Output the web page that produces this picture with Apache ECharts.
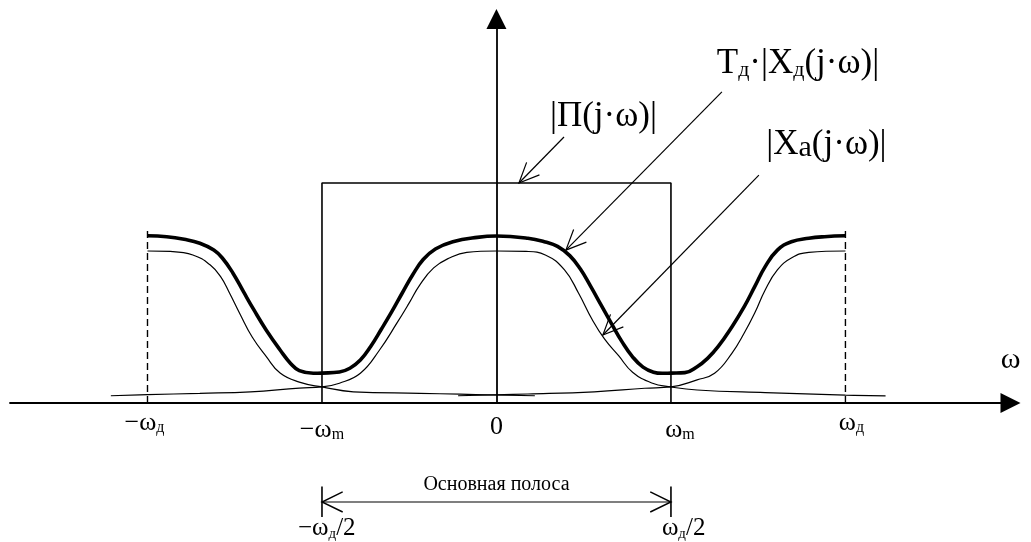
<!DOCTYPE html>
<html>
<head>
<meta charset="utf-8">
<script src="https://cdn.jsdelivr.net/npm/echarts@6/dist/echarts.min.js"></script>
<style>html,body{margin:0;padding:0;background:#fff}#chart{width:1031px;height:542px}</style>
</head>
<body>
<div id="chart"></div>
<script>
// ---------- DATA (ω measured in units of ωm, amplitude in units of |Π| height) ----------
const tickValuesD = [-2, 0, 2];                       // −ωд, 0, ωд
const tickLabelsD = ['{t|−ω}{s|д}{sp6|}', '{z|0}', '{sp12|}{t|ω}{s|д}'];
const tickValuesM = [-1, 1];                          // −ωm, ωm
const tickLabelsM = ['{t|−ω}{s|m}', '{sp18|}{t|ω}{s|m}'];
const axisName = 'ω';

// |Π(j·ω)| — ideal low-pass filter
const passband = [[-1, 0], [-1, 1], [1, 1], [1, 0]];
// dashed marks at ±ωд
const samplingMarkLeft = [[-2, 0], [-2, 0.791]];
const samplingMarkRight = [[2, 0], [2, 0.791]];

// Tд·|Xд(j·ω)| — spectrum of the sampled signal (thick)
const sampledSpectrum = [
  [-2.00, 0.760], [-1.89, 0.756], [-1.79, 0.744], [-1.70, 0.726], [-1.62, 0.695], [-1.57, 0.658],
  [-1.51, 0.590], [-1.45, 0.506], [-1.39, 0.423], [-1.32, 0.332], [-1.24, 0.241], [-1.18, 0.180],
  [-1.13, 0.147], [-1.05, 0.135], [-1.00, 0.136], [-0.90, 0.141], [-0.84, 0.158], [-0.78, 0.195],
  [-0.72, 0.258], [-0.66, 0.335], [-0.60, 0.415], [-0.54, 0.500], [-0.48, 0.583], [-0.42, 0.652],
  [-0.35, 0.700], [-0.25, 0.733], [-0.11, 0.753], [0.00, 0.759], [0.18, 0.749], [0.28, 0.732],
  [0.35, 0.712], [0.42, 0.670], [0.48, 0.610], [0.54, 0.530], [0.60, 0.445], [0.66, 0.360],
  [0.72, 0.278], [0.78, 0.210], [0.84, 0.163], [0.90, 0.140], [0.95, 0.135], [1.00, 0.136],
  [1.08, 0.138], [1.15, 0.165], [1.21, 0.203], [1.27, 0.256], [1.35, 0.347], [1.42, 0.438],
  [1.48, 0.529], [1.54, 0.620], [1.61, 0.695], [1.69, 0.733], [1.79, 0.749], [1.88, 0.756],
  [2.00, 0.760]
];

// |Xa(j·ω)| — analog spectrum (thin), centred at 0
const analogSpectrum = [
  [-2.21, 0.033], [-2.00, 0.038], [-1.70, 0.044], [-1.41, 0.051], [-1.13, 0.068], [-1.00, 0.073],
  [-0.90, 0.090], [-0.78, 0.135], [-0.67, 0.241], [-0.57, 0.364], [-0.50, 0.455], [-0.44, 0.536],
  [-0.36, 0.614], [-0.27, 0.659], [-0.17, 0.685], [0.00, 0.691], [0.17, 0.689], [0.28, 0.673],
  [0.39, 0.605], [0.47, 0.500], [0.55, 0.377], [0.62, 0.290], [0.70, 0.215], [0.78, 0.140],
  [0.89, 0.091], [1.00, 0.073], [1.15, 0.059], [1.54, 0.047], [2.00, 0.036], [2.23, 0.032]
];
// replica centred at −ωд
const replicaLeft = [
  [-2.00, 0.691], [-1.87, 0.689], [-1.74, 0.673], [-1.64, 0.627], [-1.58, 0.573], [-1.53, 0.500],
  [-1.47, 0.405], [-1.40, 0.300], [-1.32, 0.212], [-1.24, 0.136], [-1.13, 0.095], [-1.00, 0.073],
  [-0.82, 0.051], [-0.44, 0.044], [-0.21, 0.040], [0.22, 0.033]
];
// replica centred at +ωд
const replicaRight = [
  [-0.22, 0.033], [0.18, 0.041], [0.56, 0.051], [0.85, 0.067], [1.00, 0.073], [1.15, 0.105],
  [1.25, 0.135], [1.35, 0.227], [1.42, 0.318], [1.48, 0.409], [1.54, 0.514], [1.61, 0.605],
  [1.69, 0.659], [1.79, 0.685], [2.00, 0.691]
];

// annotation texts
const labelPi = '{a||Π(j·ω)|}';
const labelSampled = '{a|T}{d|д}{a|·|X}{d|д}{a|(j·ω)|}';
const labelAnalog = '{a||X}{x|a}{a|(j·ω)|}';
const labelBand = 'Основная полоса';
const labelBandLeft = '{t|−ω}{s|д}{t|/2}';
const labelBandRight = '{t|ω}{s|д}{t|/2}';

// ---------- LAYOUT ----------
const FONT = '"Liberation Serif","Times New Roman","DejaVu Serif",serif';
const X_MIN = -2.788, X_MAX = 2.946, Y_MAX = 1.7455;

const tickRich = {
  t: {fontFamily: FONT, fontSize: 26, lineHeight: 26, color: '#000'},
  s: {fontFamily: FONT, fontSize: 16, lineHeight: 15, verticalAlign: 'bottom', color: '#000'},
  z: {fontFamily: FONT, fontSize: 26, lineHeight: 34, color: '#000'},
  sp6: {width: 6}, sp12: {width: 12}, sp18: {width: 18}
};

const annRich = {
  a: {fontFamily: FONT, fontSize: 35, lineHeight: 35, color: '#000'},
  d: {fontFamily: FONT, fontSize: 22, lineHeight: 16, verticalAlign: 'bottom', color: '#000'},
  x: {fontFamily: FONT, fontSize: 30, lineHeight: 18, verticalAlign: 'bottom', color: '#000'}
};
const bandRich = {
  t: {fontFamily: FONT, fontSize: 25, lineHeight: 25, color: '#000'},
  s: {fontFamily: FONT, fontSize: 15, lineHeight: 14, verticalAlign: 'bottom', color: '#000'}
};

const annotationLayout = {
  arrows: [
    {from: [0.387, 1.209], to: [0.129, 1.000]},
    {from: [1.292, 1.414], to: [0.398, 0.695]},
    {from: [1.504, 1.036], to: [0.610, 0.309]}
  ],
  texts: [
    {text: labelPi, at: [0.613, 1.302], rich: annRich, align: 'center'},
    {text: labelSampled, at: [1.728, 1.543], rich: annRich, align: 'center'},
    {text: labelAnalog, at: [1.891, 1.172], rich: annRich, align: 'center'},
    {text: '{b|' + labelBand + '}', at: [0.0, -0.370], rich: {b: {fontFamily: FONT, fontSize: 20, color: '#000'}}, align: 'center'},
    {text: labelBandLeft, at: [-1.1375, -0.572], rich: bandRich, align: 'left'},
    {text: labelBandRight, at: [0.948, -0.572], rich: bandRich, align: 'left'}
  ],
  bracketY: -0.45, bracketTickTop: -0.380, bracketTickBottom: -0.518
};

function chevron(tip, from, len, ang) {
  const dx = from[0] - tip[0], dy = from[1] - tip[1];
  const d = Math.hypot(dx, dy), ux = dx / d, uy = dy / d;
  const c = Math.cos(ang), s = Math.sin(ang);
  return [
    [tip[0] + len * (ux * c - uy * s), tip[1] + len * (ux * s + uy * c)],
    [tip[0], tip[1]],
    [tip[0] + len * (ux * c + uy * s), tip[1] + len * (-ux * s + uy * c)]
  ];
}

function renderAnnotations(params, api) {
  const children = [];
  const stroke = {stroke: '#000', lineWidth: 1.2, fill: null};
  annotationLayout.arrows.forEach(function (a) {
    const p0 = api.coord(a.from), p1 = api.coord(a.to);
    children.push({type: 'line', shape: {x1: p0[0], y1: p0[1], x2: p1[0], y2: p1[1]}, style: stroke});
    children.push({type: 'polyline', shape: {points: chevron(p1, p0, 22, 0.42)}, style: stroke});
  });
  const L = api.coord([-1, annotationLayout.bracketY]);
  const R = api.coord([1, annotationLayout.bracketY]);
  children.push({type: 'line', shape: {x1: L[0], y1: L[1], x2: R[0], y2: R[1]}, style: stroke});
  children.push({type: 'polyline', shape: {points: chevron(L, R, 23, 0.45)}, style: {stroke: '#000', lineWidth: 1.4, fill: null}});
  children.push({type: 'polyline', shape: {points: chevron(R, L, 23, 0.45)}, style: {stroke: '#000', lineWidth: 1.4, fill: null}});
  [-1, 1].forEach(function (x) {
    const t = api.coord([x, annotationLayout.bracketTickTop]);
    const b = api.coord([x, annotationLayout.bracketTickBottom]);
    children.push({type: 'line', shape: {x1: t[0], y1: t[1], x2: b[0], y2: b[1]}, style: {stroke: '#000', lineWidth: 1.6}});
  });
  annotationLayout.texts.forEach(function (t) {
    const p = api.coord(t.at);
    children.push({type: 'text', x: p[0], y: p[1], style: {
      text: t.text, rich: t.rich, align: t.align, verticalAlign: 'middle', fill: '#000'
    }});
  });
  return {type: 'group', children: children};
}

function lineSeries(data, width, extra) {
  return Object.assign({
    type: 'line', data: data, symbol: 'none', silent: true, xAxisIndex: 0,
    lineStyle: {color: '#000', width: width}, itemStyle: {color: '#000'}
  }, extra || {});
}

const chart = echarts.init(document.getElementById('chart'));
chart.setOption({
  animation: false,
  backgroundColor: '#fff',
  grid: {left: 10, right: 20.5, top: 19, bottom: 139, containLabel: false, outerBoundsMode: 'none'},
  xAxis: [{
    type: 'value', min: X_MIN, max: X_MAX,
    name: axisName, nameLocation: 'end', nameGap: 0,
    nameTextStyle: {fontFamily: FONT, fontSize: 30, color: '#000', align: 'center', verticalAlign: 'bottom', padding: [0, 0, 28, 0]},
    axisLine: {show: true, onZero: false, symbol: ['none', 'triangle'], symbolSize: [20, 20], lineStyle: {color: '#000', width: 1.8}},
    axisTick: {show: false}, splitLine: {show: false},
    axisLabel: {
      customValues: tickValuesD, margin: 7,
      formatter: function (v) { return tickLabelsD[tickValuesD.indexOf(v)]; },
      rich: tickRich
    }
  }, {
    type: 'value', min: X_MIN, max: X_MAX, position: 'bottom',
    axisLine: {show: false}, axisTick: {show: false}, splitLine: {show: false},
    axisLabel: {
      customValues: tickValuesM, margin: 14,
      formatter: function (v) { return tickLabelsM[tickValuesM.indexOf(v)]; },
      rich: tickRich
    }
  }],
  yAxis: {
    type: 'value', min: 0, max: Y_MAX,
    axisLine: {show: true, onZero: true, symbol: ['none', 'triangle'], symbolSize: [20, 20], lineStyle: {color: '#000', width: 1.8}},
    axisTick: {show: false}, axisLabel: {show: false}, splitLine: {show: false}
  },
  series: [
    lineSeries(passband, 1.6),
    lineSeries(samplingMarkLeft, 1.4, {lineStyle: {color: '#000', width: 1.4, type: [7, 4]}}),
    lineSeries(samplingMarkRight, 1.4, {lineStyle: {color: '#000', width: 1.4, type: [7, 4]}}),
    lineSeries(analogSpectrum, 1.2, {smooth: 0.45}),
    lineSeries(replicaLeft, 1.2, {smooth: 0.45}),
    lineSeries(replicaRight, 1.2, {smooth: 0.45}),
    lineSeries(sampledSpectrum, 3.6, {smooth: 0.45}),
    {type: 'custom', coordinateSystem: 'cartesian2d', xAxisIndex: 0, yAxisIndex: 0,
     clip: false, silent: true, data: [[0, 0]], renderItem: renderAnnotations, z: 5}
  ]
});
</script>
</body>
</html>
